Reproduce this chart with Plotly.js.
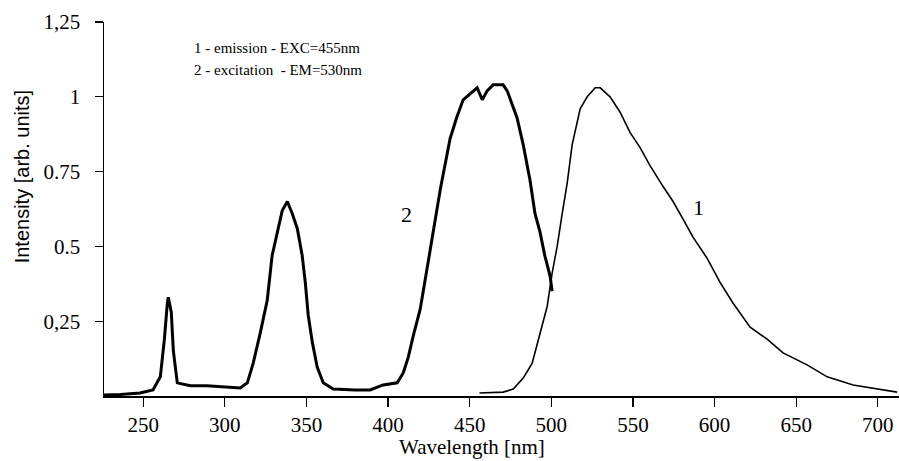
<!DOCTYPE html>
<html>
<head>
<meta charset="utf-8">
<script src="https://cdn.plot.ly/plotly-3.0.1.min.js"></script>
<style>html,body{margin:0;padding:0;background:#fff;}#chart{width:899px;height:461px;}</style>
</head>
<body>
<div id="chart"></div>
<script>
// Curve 2: excitation spectrum (EM = 530 nm)
const excWavelength = [226,236,248,256,260.5,263,264.8,265.4,267.2,268.5,270.9,278.9,289,299,309.5,313.8,317.4,321.7,326,329,331,332.8,335.2,338.3,341.3,344.4,347.4,349.3,351.1,353.6,356.6,360.3,366.4,380,389,397,405.6,409.3,412.4,415.4,419.7,422.8,425.8,428.9,432,438,442,446,450,454.6,457.7,460.7,464.4,470.5,473,479,482.8,487,490,493,496,499.3,500.5];
const excIntensity = [0.003,0.005,0.01,0.02,0.064,0.19,0.31,0.33,0.28,0.15,0.044,0.034,0.034,0.03,0.027,0.044,0.11,0.21,0.32,0.47,0.52,0.57,0.62,0.65,0.61,0.56,0.47,0.38,0.27,0.18,0.097,0.044,0.023,0.02,0.02,0.037,0.044,0.077,0.13,0.2,0.29,0.39,0.49,0.59,0.69,0.86,0.93,0.99,1.01,1.03,0.99,1.02,1.04,1.04,1.02,0.93,0.84,0.72,0.61,0.55,0.47,0.40,0.35];

// Curve 1: emission spectrum (EXC = 455 nm)
const emWavelength = [456,470.5,476.7,482.8,488.3,493,497.5,500.5,503.6,506.7,509.7,512.8,515.8,517.7,522,526.9,530,536,542,548.3,554.4,560.5,568.5,574.6,580.8,586.9,595.5,603.4,611.4,621.8,632.2,642,656.7,669,684.9,699.6,711.8];
const emIntensity = [0.01,0.013,0.023,0.06,0.11,0.21,0.30,0.41,0.50,0.61,0.71,0.84,0.92,0.96,1.00,1.03,1.03,1.00,0.95,0.88,0.83,0.77,0.70,0.65,0.59,0.53,0.46,0.38,0.31,0.23,0.19,0.144,0.104,0.064,0.037,0.023,0.013];

const xTickVals = [250,300,350,400,450,500,550,600,650,700];
const yTickVals = [0.25,0.5,0.75,1,1.25];
const yTickText = ["0,25","0.5","0.75","1","1,25"];

const serif = "Liberation Serif";

const traces = [
  {x: excWavelength, y: excIntensity, type: 'scatter', mode: 'lines', name: '2 - excitation',
   line: {color: '#000', width: 3}, hoverinfo: 'x+y'},
  {x: emWavelength, y: emIntensity, type: 'scatter', mode: 'lines', name: '1 - emission',
   line: {color: '#000', width: 1.6}, hoverinfo: 'x+y'}
];

const layout = {
  width: 899, height: 461,
  margin: {l: 104, r: 0, t: 22, b: 65},
  paper_bgcolor: '#fff', plot_bgcolor: '#fff',
  font: {family: serif, size: 21, color: '#000'},
  showlegend: false,
  xaxis: {
    range: [226, 713], tickvals: xTickVals,
    showgrid: false, zeroline: false, showline: true, linecolor: '#000', linewidth: 1.5,
    ticks: 'outside', ticklen: 9, tickcolor: '#000', tickwidth: 1.2,
    tickfont: {family: serif, size: 21, color: '#000'}
  },
  yaxis: {
    range: [0, 1.25], tickvals: yTickVals, ticktext: yTickText,
    showgrid: false, zeroline: false, showline: true, linecolor: '#000', linewidth: 1.5,
    ticks: 'outside', ticklen: 8, tickcolor: '#000', tickwidth: 1.2,
    ticklabelstandoff: 10,
    tickfont: {family: serif, size: 21, color: '#000'}
  },
  annotations: [
    {text: 'Intensity [arb. units]', textangle: -90, xref: 'paper', yref: 'paper',
     x: -0.103, y: 0.585, xanchor: 'center', yanchor: 'middle', showarrow: false,
     font: {family: 'Liberation Sans', size: 20, color: '#000'}},
    {text: 'Wavelength [nm]', xref: 'paper', yref: 'paper',
     x: 0.463, y: -0.137, xanchor: 'center', yanchor: 'middle', showarrow: false,
     font: {family: serif, size: 21, color: '#000'}},
    {text: '1 - emission - EXC=455nm', xref: 'paper', yref: 'paper', x: 0.1107, y: 0.930,
     xanchor: 'left', yanchor: 'middle', showarrow: false,
     font: {family: serif, size: 15, color: '#000'}},
    {text: '2 - excitation  - EM=530nm', xref: 'paper', yref: 'paper', x: 0.1107, y: 0.872,
     xanchor: 'left', yanchor: 'middle', showarrow: false,
     font: {family: serif, size: 15, color: '#000'}},
    {text: '2', xref: 'x', yref: 'y', x: 411, y: 0.605, showarrow: false,
     font: {family: serif, size: 22, color: '#000'}},
    {text: '1', xref: 'x', yref: 'y', x: 590, y: 0.63, showarrow: false,
     font: {family: serif, size: 22, color: '#000'}}
  ]
};

Plotly.newPlot('chart', traces, layout, {displayModeBar: false, staticPlot: true});
</script>
</body>
</html>
